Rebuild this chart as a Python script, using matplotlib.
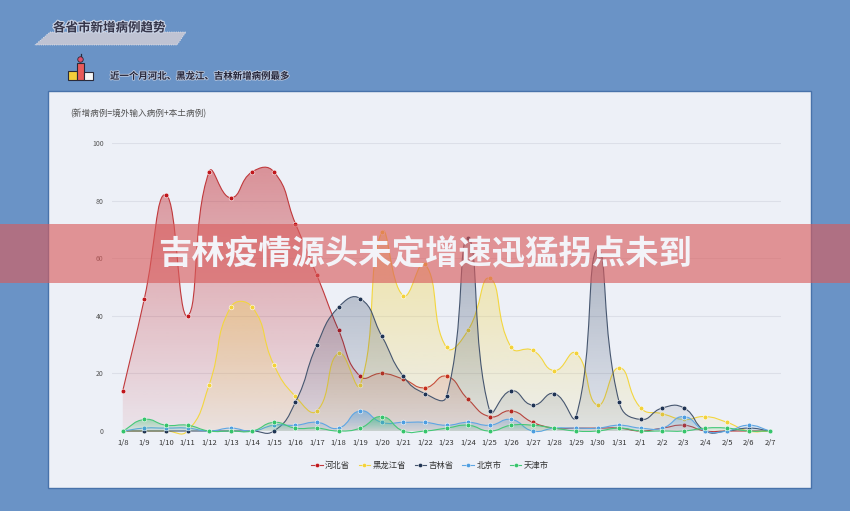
import numpy as np
import matplotlib
matplotlib.use("Agg")
import matplotlib.pyplot as plt
from matplotlib.path import Path
from matplotlib.patches import PathPatch, Rectangle, Polygon, Ellipse
from matplotlib.lines import Line2D
from matplotlib.colors import to_rgb
import matplotlib.patheffects as pe

plt.rcParams['font.family'] = ['Noto Sans CJK SC', 'DejaVu Sans']

# ---- data ----
dates = ['1/8', '1/9', '1/10', '1/11', '1/12', '1/13', '1/14', '1/15', '1/16', '1/17',
         '1/18', '1/19', '1/20', '1/21', '1/22', '1/23', '1/24', '1/25', '1/26', '1/27',
         '1/28', '1/29', '1/30', '1/31', '2/1', '2/2', '2/3', '2/4', '2/5', '2/6', '2/7']
hebei = [14, 46, 82, 40, 90, 81, 90, 90, 72, 54, 35, 19, 20, 18, 15, 19, 11, 5, 7, 3,
         1, 1, 1, 1, 0, 1, 2, 0, 0, 0, 0]
heilongjiang = [0, 0, 0, 0, 16, 43, 43, 23, 12, 7, 27, 16, 69, 47, 58, 29, 35, 53, 29, 28,
                21, 27, 9, 22, 8, 6, 4, 5, 3, 0, 0]
jilin = [0, 0, 0, 0, 0, 0, 0, 0, 10, 30, 43, 46, 33, 19, 13, 12, 67, 7, 14, 9,
         13, 5, 63, 10, 4, 8, 8, 0, 0, 1, 0]
beijing = [0, 1, 1, 1, 0, 1, 0, 2, 2, 3, 1, 7, 3, 3, 3, 2, 3, 2, 4, 0,
           1, 1, 1, 2, 1, 1, 5, 0, 0, 2, 0]
tianjin = [0, 4, 2, 2, 0, 0, 0, 3, 1, 1, 0, 1, 5, 0, 0, 1, 2, 0, 2, 2,
           1, 0, 0, 1, 0, 0, 0, 1, 1, 0, 0]

names = ['河北省', '黑龙江省', '吉林省', '北京市', '天津市']
series = [hebei, heilongjiang, jilin, beijing, tianjin]
colors = ['#c0161c', '#f3d23a', '#1f3353', '#4d9de0', '#36c46c']
line_colors = ['#c0393c', '#f3d63f', '#46566f', '#5ea6e4', '#45c878']
top_alpha = [0.45, 0.45, 0.35, 0.55, 0.55]

W, H = 850, 511
BG = '#6a93c6'
PANEL = '#edf0f7'


def fx(x):
    return x / W


def fy(y):
    return 1 - y / H


fig = plt.figure(figsize=(8.5, 5.11), dpi=100, facecolor=BG)

# panel
fig.patches.append(Rectangle((fx(48), fy(488)), fx(811) - fx(48), fy(91) - fy(488),
                             transform=fig.transFigure, facecolor=PANEL,
                             edgecolor='#4872aa', lw=1.0, zorder=-1))

# header tab
tab = [(50, 32), (186, 32), (177, 45), (35, 45)]
fig.patches.append(Polygon([(fx(a), fy(b)) for a, b in tab], closed=True,
                           transform=fig.transFigure, facecolor='#bfc3d3',
                           edgecolor='#e8ebf3', lw=0.6, ls=':', zorder=1))
fig.text(fx(53), fy(28), '各省市新增病例趋势', fontsize=9, fontweight='bold',
         color='#35354a', va='center', ha='left', zorder=2,
         path_effects=[pe.withStroke(linewidth=1.6, foreground='#c9d2e4')])

# podium icon
ink = '#2a2a3a'
for (x0, y0, x1, y1, c) in [(68, 71, 77, 80, '#f3cd3a'), (77, 63, 84, 80, '#e85a5a'),
                            (84, 72, 93, 80, '#f7f7f7')]:
    fig.patches.append(Rectangle((fx(x0), fy(y1)), fx(x1) - fx(x0), fy(y0) - fy(y1),
                                 transform=fig.transFigure, facecolor=c,
                                 edgecolor=ink, lw=0.8, zorder=2))
fig.patches.append(Ellipse((fx(80.5), fy(59.5)), 5.5 / W, 5.5 / H, transform=fig.transFigure,
                           facecolor='#e0506a', edgecolor=ink, lw=0.6, zorder=3))
fig.lines.append(Line2D([fx(80.5), fx(80.5)], [fy(56.5), fy(54)], transform=fig.transFigure,
                        color=ink, lw=0.9))
fig.text(fx(110), fy(76), '近一个月河北、黑龙江、吉林新增病例最多', fontsize=6.8,
         fontweight='bold', color='#26263a', va='center', ha='left',
         path_effects=[pe.withStroke(linewidth=1.2, foreground='#b9c6dc')])

fig.text(fx(70), fy(114), '(新增病例=境外输入病例+本土病例)', fontsize=6.2,
         color='#505050', va='center', ha='left', fontweight='medium')

# chart axes
ax = fig.add_axes([fx(112), fy(431), fx(781) - fx(112), fy(143) - fy(431)])
ax.set_facecolor('none')
for s in ax.spines.values():
    s.set_visible(False)

x = np.arange(len(dates))
SX, SY = 21.58, 2.877  # pixel size of one step / one case, for the smoothing


def smooth_verts(xs, ys, k=0.5):
    P = np.column_stack([np.asarray(xs, float) * SX, np.asarray(ys, float) * SY])
    n = len(P)
    cps = []
    for i in range(n):
        p = P[i]
        prev = P[i - 1] if i > 0 else p
        nxt = P[i + 1] if i < n - 1 else p
        v = (nxt - prev) * k
        d0 = np.hypot(*(p - prev))
        d1 = np.hypot(*(nxt - p))
        s = d0 + d1
        if s > 0:
            d0, d1 = d0 / s, d1 / s
        cps.append((p - v * d0, p + v * d1))
    verts = [P[0]]
    codes = [Path.MOVETO]
    for i in range(n - 1):
        verts += [cps[i][1], cps[i + 1][0], P[i + 1]]
        codes += [Path.CURVE4] * 3
    verts = np.array(verts) / [SX, SY]
    return verts, codes


for i, (name, vals) in enumerate(zip(names, series)):
    z = 2 + i
    verts, codes = smooth_verts(x, vals)
    area_path = Path(np.vstack([verts, [[x[-1], 0], [x[0], 0], [x[0], 0]]]),
                     codes + [Path.LINETO, Path.LINETO, Path.CLOSEPOLY])
    clip = PathPatch(area_path, transform=ax.transData, facecolor='none', edgecolor='none')
    top = max(vals) * 1.06 + 0.5
    rgba = np.zeros((256, 1, 4))
    rgba[..., :3] = to_rgb(colors[i])
    rgba[:, 0, 3] = np.linspace(0.06, top_alpha[i], 256)
    im = ax.imshow(rgba, extent=(-0.5, 30.5, 0, top), origin='lower', aspect='auto',
                   interpolation='bilinear', zorder=z)
    im.set_clip_path(clip)
    ax.add_patch(PathPatch(Path(verts, codes), fill=False, edgecolor=line_colors[i],
                           lw=0.8, zorder=z + 0.1, clip_on=False))
    ax.plot(x, vals, 'o', ms=3.4, mfc=colors[i], mec='white', mew=0.4,
            zorder=z + 0.2, clip_on=False)

ax.set_xlim(-0.5, len(dates) - 0.5)
ax.set_ylim(0, 100)
ax.set_xticks(x)
ax.set_xticklabels(dates)
ax.set_yticks([0, 20, 40, 60, 80, 100])
ax.tick_params(axis='x', length=0, pad=6, labelsize=5.5, labelcolor='#333333')
ax.tick_params(axis='y', length=0, pad=6, labelsize=5, labelcolor='#555555')
ax.grid(axis='y', color='#dcdfe8', lw=0.8)
ax.set_axisbelow(True)
ygl = ax.get_ygridlines()
ygl[0].set_visible(False)

handles = [Line2D([], [], color=line_colors[i], lw=0.8, marker='o', ms=3,
                  mfc=colors[i], mec='white', mew=0.3) for i in range(5)]
ax.legend(handles, names, loc='center', bbox_to_anchor=(fx(430), fy(465)),
          bbox_transform=fig.transFigure, ncol=5, frameon=False, fontsize=6,
          handlelength=1.4, handletextpad=0.3, columnspacing=1.0,
          labelcolor='#333333')

# banner across the middle
fig.patches.append(Rectangle((0, fy(283)), 1, fy(224) - fy(283), transform=fig.transFigure,
                             facecolor=(0.85, 0.36, 0.36), alpha=0.63, lw=0, zorder=10))
fig.text(fx(425), fy(255), '吉林疫情源头未定增速迅猛拐点未到', fontsize=24,
         fontweight='heavy', color='#f3f3f8', ha='center', va='center', zorder=11)

fig.savefig('out.png', dpi=100, facecolor=BG)
